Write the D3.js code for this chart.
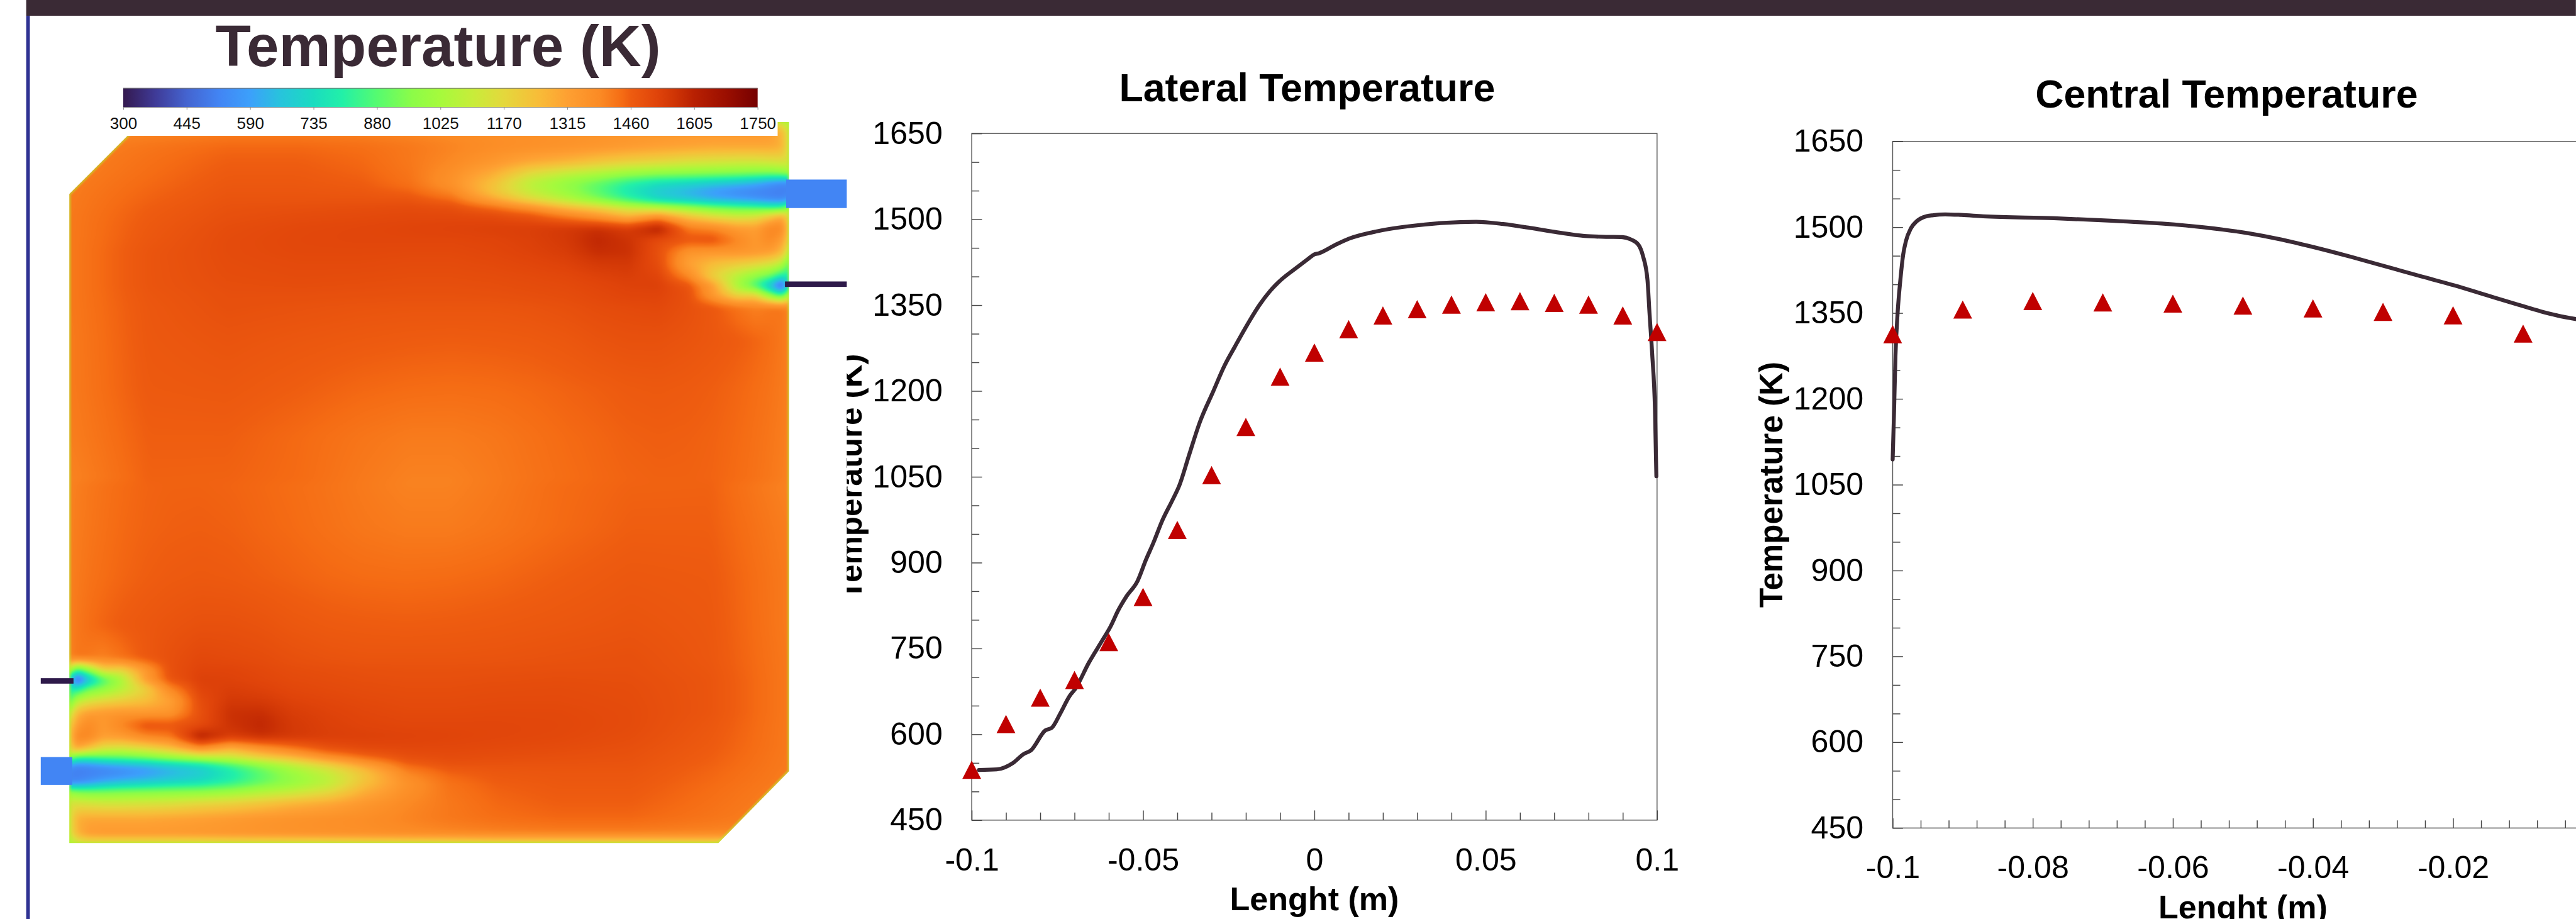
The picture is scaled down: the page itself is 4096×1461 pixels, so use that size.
<!DOCTYPE html>
<html><head><meta charset="utf-8">
<style>html,body{margin:0;padding:0;background:#fff;overflow:hidden}svg{display:block}text{font-family:"Liberation Sans",Arial,sans-serif}</style>
<script src="https://cdn.jsdelivr.net/npm/d3@7"></script>
</head><body>
<svg id="root" width="4096" height="1461" viewBox="0 0 4247 1515"></svg>
<script>
// ---------- data ----------
const colorTemps = [300,372,445,520,590,660,735,800,880,960,1025,1100,1170,1250,1315,1390,1440,1460,1520,1560,1605,1680,1750];
const colorHex = ["#34194f","#3f3a96","#4464d0","#4285f4","#3ca0fb","#27c4dc","#1adcc0","#22f0a8","#55fb70","#8cfc48","#a6fa3c","#c8ec3a","#e4d83c","#f8bc38","#fea032","#fb8a24","#f56c14","#ee5c10","#e0440a","#cf3505","#b82002","#9a0e00","#750000"];
const colorbarTicks = [300,445,590,735,880,1025,1170,1315,1460,1605,1750];

// chamber field: half of the section, the other half is point-symmetric
const heatCols = [0,11,31,56,86,126,166,216,266,316,366,426,486,556,626,706,806,926,1056,1187];
const heatRows = [0,75,155,235,290,310,325,340,360,380,400,420,440,455,467,480,495,510,530,555,580,595];
const heatValues = [
[1400,1410,1420,1430,1440,1450,1453,1453,1450,1445,1438,1428,1416,1403,1403,1418,1440,1452,1453,1400],
[1403,1413,1423,1433,1443,1452,1456,1458,1455,1448,1442,1432,1422,1415,1415,1425,1442,1458,1458,1410],
[1405,1416,1428,1438,1448,1458,1464,1468,1465,1458,1452,1445,1440,1438,1440,1446,1458,1470,1466,1415],
[1405,1420,1436,1450,1462,1472,1480,1488,1488,1482,1472,1465,1462,1460,1462,1466,1472,1480,1470,1415],
[1390,1425,1420,1405,1430,1470,1490,1510,1505,1500,1490,1482,1478,1478,1478,1480,1485,1490,1472,1418],
[1100,800,950,1180,1170,1330,1490,1520,1520,1510,1500,1495,1490,1488,1488,1490,1492,1492,1475,1418],
[800,350,620,840,1030,1330,1480,1530,1525,1515,1505,1500,1495,1492,1492,1495,1498,1495,1478,1418],
[800,760,900,970,1060,1190,1390,1520,1535,1525,1512,1505,1500,1497,1497,1500,1502,1498,1478,1418],
[850,1060,1130,1170,1200,1240,1310,1500,1550,1545,1525,1515,1507,1502,1502,1505,1505,1500,1478,1418],
[1050,1260,1320,1340,1350,1340,1350,1490,1570,1575,1540,1525,1515,1508,1508,1510,1510,1502,1478,1418],
[1180,1320,1390,1340,1400,1490,1480,1500,1565,1590,1550,1530,1520,1515,1515,1515,1512,1502,1472,1418],
[1180,1400,1400,1320,1330,1390,1420,1620,1540,1570,1550,1535,1530,1525,1520,1515,1510,1498,1468,1418],
[1150,1300,1220,1130,1110,1150,1220,1350,1260,1340,1410,1480,1505,1510,1510,1505,1500,1490,1463,1418],
[1000,800,800,840,860,900,960,1030,1090,1180,1240,1350,1430,1490,1500,1495,1490,1485,1458,1416],
[560,510,530,560,590,620,670,720,830,950,1060,1170,1300,1440,1480,1480,1480,1480,1453,1416],
[520,510,510,515,530,570,620,680,770,880,990,1090,1220,1390,1450,1470,1475,1475,1448,1414],
[520,520,560,620,660,690,720,750,810,900,980,1070,1230,1360,1430,1460,1470,1470,1443,1412],
[1000,950,930,930,940,950,960,970,1000,1050,1090,1160,1280,1370,1425,1452,1465,1465,1438,1408],
[1130,1150,1140,1130,1130,1140,1150,1180,1200,1230,1270,1300,1345,1390,1420,1445,1458,1458,1433,1405],
[1100,1280,1300,1300,1300,1300,1310,1320,1335,1350,1360,1370,1380,1400,1420,1435,1445,1445,1425,1400],
[1100,1260,1330,1340,1340,1340,1340,1345,1350,1355,1360,1365,1370,1380,1390,1400,1405,1405,1395,1385],
[1000,1090,1120,1120,1120,1120,1120,1120,1130,1130,1130,1130,1140,1140,1140,1150,1150,1150,1150,1100]
];

const lateralX = [-0.0979,-0.0927,-0.088,-0.0848,-0.0828,-0.0785,-0.0766,-0.0742,-0.0714,-0.0698,-0.0658,-0.0619,-0.0595,-0.0572,-0.0548,-0.0516,-0.0492,-0.0469,-0.0445,-0.0413,-0.0394,-0.0366,-0.0334,-0.0295,-0.0263,-0.0232,-0.02,-0.016,-0.0129,-0.0097,-0.005,-0.0018,-0.0002,0.0013,0.0061,0.01,0.0187,0.0282,0.0377,0.0472,0.0551,0.063,0.0709,0.0788,0.0851,0.0899,0.0923,0.0946,0.0959,0.0972,0.0978,0.0986,0.0994,0.0998];
const lateralT = [537.6,538.6,549.7,565.7,571.5,606.8,611.6,635.8,667.2,679.3,725.3,764,788.2,817.2,841.4,868,904.3,935.8,972,1010.7,1035,1087.4,1145.9,1199.5,1243.3,1277.4,1311.5,1350.5,1374.8,1394.3,1416.2,1430.8,1438.1,1440.6,1455.2,1465.9,1479.5,1488.3,1493.7,1495.6,1491.7,1484.9,1477.1,1470.8,1469.3,1468.8,1464.9,1455.2,1435.7,1394.3,1335.9,1262.8,1165.4,1050.9];
const lateralExpX = [-0.1,-0.09,-0.08,-0.07,-0.06,-0.05,-0.04,-0.03,-0.02,-0.01,0,0.01,0.02,0.03,0.04,0.05,0.06,0.07,0.08,0.09,0.1];
const lateralExpT = [538,618,664,695,761,840,957,1053,1137,1225,1267,1308,1332,1343,1351,1355,1357,1354,1351,1332,1303];

const centralX = [-0.1,-0.0998,-0.0996,-0.0993,-0.0989,-0.0985,-0.0981,-0.0974,-0.0966,-0.0956,-0.0942,-0.0925,-0.0902,-0.0871,-0.077,-0.0693,-0.0616,-0.0554,-0.0492,-0.0446,-0.04,-0.0345,-0.0299,-0.0245,-0.0198,-0.0152,-0.0106,-0.0075,-0.0051,-0.0022];
const centralT = [1094,1179,1276,1349,1408,1452,1476,1498,1510,1517.5,1521,1522.4,1521.4,1519,1515.6,1511.7,1506.3,1499.5,1489.3,1478.6,1465.4,1447.9,1432.3,1413.8,1398.2,1381.1,1364.1,1352.9,1345.6,1338.8];
const centralExpX = [-0.1,-0.09,-0.08,-0.07,-0.06,-0.05,-0.04,-0.03,-0.02,-0.01];
const centralExpT = [1313,1356,1371,1368.5,1366.5,1363,1358,1352,1346,1314];

const yMajor = [450,600,750,900,1050,1200,1350,1500,1650];
const lateralXMajor = [-0.1,-0.05,0,0.05,0.1];
const centralXMajor = [-0.1,-0.08,-0.06,-0.04,-0.02];

// ---------- drawing ----------
const DARK = "#3a2a35";
const svg = d3.select("#root");
svg.append("rect").attr("width",4247).attr("height",1515).attr("fill","#fff");

const color = d3.scaleLinear().domain(colorTemps).range(colorHex).clamp(true);

// ---- heat field ----
const L = 114, R = 1301, T = 201, B = 1390, CH = 119;
const W = R - L, H = B - T;
const colScale = d3.scaleLinear().domain([0,1187]).range([0,W]);
const rowScale = d3.scaleLinear().domain([0,595]).range([0,H/2]);
const cx = heatCols.map(colScale), ry = heatRows.map(rowScale);
const field = new Float32Array(W*H);
function sample(px, py){
  let i = Math.min(cx.length-2, Math.max(0, d3.bisectRight(cx,px)-1));
  let j = Math.min(ry.length-2, Math.max(0, d3.bisectRight(ry,py)-1));
  const u = Math.min(1,Math.max(0,(px-cx[i])/(cx[i+1]-cx[i])));
  const v = Math.min(1,Math.max(0,(py-ry[j])/(ry[j+1]-ry[j])));
  const a=heatValues[j][i], b=heatValues[j][i+1], c=heatValues[j+1][i], d=heatValues[j+1][i+1];
  return (a*(1-u)+b*u)*(1-v)+(c*(1-u)+d*u)*v;
}
for(let y=0;y<H;y++){
  const d = y+0.5-H/2;
  for(let x=0;x<W;x++){
    field[y*W+x] = d>=0 ? sample(x+0.5,d) : sample(W-x-0.5,-d);
  }
}
d3.blur2({data:field,width:W,height:H},5);
const lut = d3.range(1451).map(k=>d3.rgb(color(300+k)));
const canvas = document.createElement("canvas");
canvas.width=W; canvas.height=H;
const ctx = canvas.getContext("2d");
const img = ctx.createImageData(W,H);
for(let k=0;k<field.length;k++){
  const c = lut[Math.max(0,Math.min(1450,Math.round(field[k]-300)))];
  img.data[4*k]=c.r; img.data[4*k+1]=c.g; img.data[4*k+2]=c.b; img.data[4*k+3]=255;
}
ctx.putImageData(img,0,0);

const defs = svg.append("defs");
const chamber = [[L+CH,T],[R,T],[R,B-CH],[R-CH+2,B],[L,B],[L,T+CH]];
const chamberPath = "M"+chamber.map(p=>p.join(",")).join("L")+"Z";
defs.append("clipPath").attr("id","chamber").append("path").attr("d",chamberPath);
const blur = defs.append("filter").attr("id","wallBlur").attr("x","-5%").attr("y","-5%").attr("width","110%").attr("height","110%");
blur.append("feGaussianBlur").attr("stdDeviation",1.6);

const heat = svg.append("g").attr("clip-path","url(#chamber)");
heat.append("image").attr("x",L).attr("y",T).attr("width",W).attr("height",H)
  .attr("preserveAspectRatio","none").attr("href",canvas.toDataURL());
heat.append("path").attr("d",chamberPath).attr("fill","none")
  .attr("stroke","#b4f032").attr("stroke-width",5).attr("opacity",0.6).attr("filter","url(#wallBlur)");

// inlets
const inlets = svg.append("g");
inlets.append("rect").attr("x",67).attr("y",1248).attr("width",52).attr("height",46).attr("fill","#4285f4");
inlets.append("rect").attr("x",R-5).attr("y",296).attr("width",100).attr("height",47).attr("fill","#4285f4");
inlets.append("rect").attr("x",67).attr("y",1118).attr("width",54).attr("height",9).attr("fill","#2e1a4a");
inlets.append("rect").attr("x",R-7).attr("y",464).attr("width",102).attr("height",9).attr("fill","#2e1a4a");

// white band of the legend, frame
svg.append("rect").attr("x",49).attr("y",26).attr("width",1233).attr("height",198).attr("fill","#fff");
svg.append("rect").attr("x",43).attr("y",0).attr("width",4204).attr("height",26).attr("fill",DARK);
svg.append("rect").attr("x",43).attr("y",26).attr("width",6).attr("height",1489).attr("fill","#2e3192");

// title
svg.append("text").attr("x",722).attr("y",109).attr("text-anchor","middle")
  .attr("font-size",96).attr("font-weight","bold").attr("fill",DARK).text("Temperature (K)");

// colour bar
const cbX = d3.scaleLinear().domain([300,1750]).range([203,1249]);
const grad = defs.append("linearGradient").attr("id","cbar");
colorTemps.forEach((t,i)=>grad.append("stop").attr("offset",(t-300)/1450).attr("stop-color",colorHex[i]));
svg.append("rect").attr("x",203).attr("y",145).attr("width",1046).attr("height",32).attr("fill","url(#cbar)");
svg.append("line").attr("x1",203).attr("x2",1249).attr("y1",145.5).attr("y2",145.5).attr("stroke","#777").attr("stroke-width",1);
svg.append("line").attr("x1",203).attr("x2",1249).attr("y1",177).attr("y2",177).attr("stroke","#777").attr("stroke-width",1);
const cbAxis = svg.append("g").attr("transform","translate(0,177)")
  .call(d3.axisBottom(cbX).tickValues(colorbarTicks).tickSize(4).tickPadding(12).tickFormat(d3.format("d")));
cbAxis.select(".domain").remove();
cbAxis.selectAll("line").attr("stroke","#888").attr("stroke-width",1);
cbAxis.selectAll("text").attr("font-size",27).attr("fill","#111").attr("font-family","Liberation Sans");

// ---- line charts ----
const fmtTick = d=> d===0 ? "0" : String(+d.toFixed(3));
function chart(o){
  const x = d3.scaleLinear().domain(o.xDomain).range([o.left,o.right]);
  const y = d3.scaleLinear().domain([450,1650]).range([o.bottom,o.top]);
  const g = svg.append("g");
  g.append("rect").attr("x",o.left).attr("y",o.top).attr("width",o.right-o.left).attr("height",o.bottom-o.top)
    .attr("fill","#fff").attr("stroke","#555").attr("stroke-width",1.5);

  const style = (a,sz)=>{ a.select(".domain").remove(); a.selectAll("line").attr("stroke","#444").attr("stroke-width",1.5);
    a.selectAll("text").attr("font-size",sz).attr("fill","#000").attr("font-family","Liberation Sans"); };
  const yMinorVals = d3.range(450,1651,50).filter(v=>!yMajor.includes(v));
  g.append("g").attr("transform",`translate(${o.left},0)`).call(d3.axisLeft(y).tickValues(yMinorVals).tickSize(-12.5).tickFormat("")).call(a=>style(a,52));
  g.append("g").attr("transform",`translate(${o.left},0)`).call(d3.axisLeft(y).tickValues(yMajor).tickSize(-17).tickPadding(48).tickFormat(d3.format("d"))).call(a=>style(a,52));
  g.append("g").attr("transform",`translate(0,${o.bottom})`).call(d3.axisBottom(x).tickValues(o.xMinor).tickSize(-12.5).tickFormat("")).call(a=>style(a,52));
  g.append("g").attr("transform",`translate(0,${o.bottom})`).call(d3.axisBottom(x).tickValues(o.xMajor).tickSize(-16).tickPadding(46).tickFormat(fmtTick)).call(a=>style(a,52));

  const line = d3.line().curve(d3.curveMonotoneX).x((d,i)=>x(o.lineX[i])).y((d,i)=>y(o.lineT[i]));
  g.append("path").attr("d",line(o.lineT)).attr("fill","none").attr("stroke",DARK)
    .attr("stroke-width",6.5).attr("stroke-linejoin","round").attr("stroke-linecap","round");

  g.selectAll("path.exp").data(o.expT).join("path").attr("class","exp")
    .attr("d","M0,-15L15.5,15L-15.5,15Z").attr("fill","#c00000")
    .attr("transform",(d,i)=>`translate(${x(o.expX[i])},${y(d)})`);

  g.append("text").attr("x",o.titleX).attr("y",o.titleY).attr("text-anchor","middle")
    .attr("font-size",65).attr("font-weight","bold").attr("fill","#000").text(o.title);
  g.append("text").attr("x",o.xLabelX).attr("y",o.bottom+149).attr("text-anchor","middle")
    .attr("font-size",54).attr("font-weight","bold").attr("fill","#000").text("Lenght (m)");
  g.append("text").attr("transform",`translate(${o.left-182},${(o.top+o.bottom)/2}) rotate(-90)`).attr("text-anchor","middle")
    .attr("font-size",53).attr("font-weight","bold").attr("fill","#000").text("Temperature (K)");
}
chart({left:1602,right:2732,top:220,bottom:1352,xDomain:[-0.1,0.1],xMajor:lateralXMajor,
  xMinor:d3.range(-10,11).filter(k=>k%5!==0).map(k=>k/100),
  lineX:lateralX,lineT:lateralT,expX:lateralExpX,expT:lateralExpT,
  title:"Lateral Temperature",titleX:2155,titleY:167,xLabelX:2167});
chart({left:3120.5,right:4275.5,top:233,bottom:1365,xDomain:[-0.1,0],xMajor:centralXMajor,
  xMinor:d3.range(-25,1).filter(k=>k%5!==0).map(k=>k*0.004),
  lineX:centralX,lineT:centralT,expX:centralExpX,expT:centralExpT,
  title:"Central Temperature",titleX:3671,titleY:177,xLabelX:3698});

// the picture of the chamber overlaps the start of the first axis title
svg.append("rect").attr("x",1310).attr("y",540).attr("width",86).attr("height",500).attr("fill","#fff");
</script>
</body></html>
